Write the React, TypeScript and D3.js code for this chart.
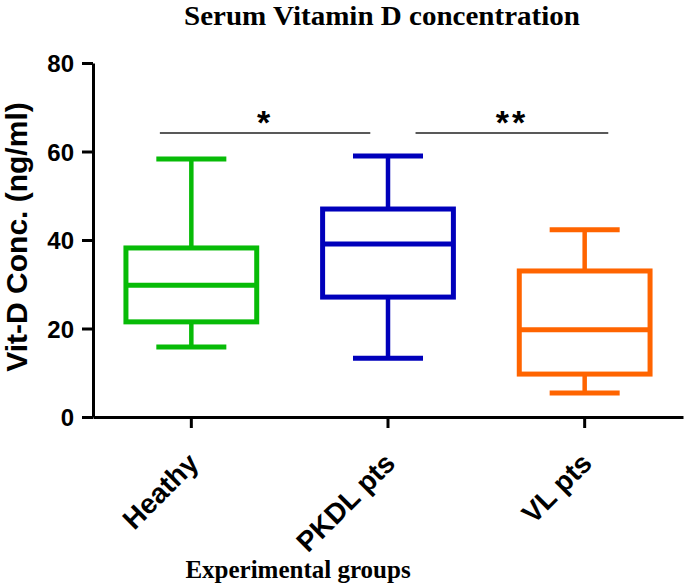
import { useEffect, useRef } from 'react'
import * as d3 from 'd3'

// group names and box statistics (ng/ml)
const groups = ['Heathy', 'PKDL pts', 'VL pts']
const whiskerMin = [15.8, 13.3, 5.4]
const q1 = [21.5, 27.1, 9.7]
const median = [29.8, 39.1, 19.7]
const q3 = [38.2, 47.0, 33.0]
const whiskerMax = [58.3, 59.0, 42.3]
const colors = ['#07bb07', '#0000bb', '#ff6400']
const yTicks = [0, 20, 40, 60, 80]

// significance bars
const sigFrom = ['Heathy', 'PKDL pts']
const sigTo = ['PKDL pts', 'VL pts']
const sigLabel = ['*', '**']
const sigLevel = 64.2

const App = () => {
	const svgRef = useRef(null)

	useEffect(() => {
		const W = 685
		const H = 585
		const svg = d3.select(svgRef.current)
		svg.selectAll('*').remove()
		svg.attr('width', W).attr('height', H)

		const x = d3.scaleBand().domain(groups).range([93, 683])
		const y = d3.scaleLinear().domain([0, 80]).range([417, 63])
		const bw = x.bandwidth()
		const cx = (g) => x(g) + bw / 2

		// title
		svg
			.append('text')
			.attr('x', 382)
			.attr('y', 25)
			.attr('text-anchor', 'middle')
			.attr('textLength', 396)
			.attr('lengthAdjust', 'spacingAndGlyphs')
			.style('font-family', 'Liberation Serif, Times New Roman, serif')
			.style('font-weight', 'bold')
			.style('font-size', '27px')
			.text('Serum Vitamin D concentration')

		// Y axis
		const yAxis = svg
			.append('g')
			.attr('transform', 'translate(93,0)')
			.call(d3.axisLeft(y).tickValues(yTicks).tickSize(11).tickSizeOuter(0).tickPadding(8))
		yAxis.select('.domain').attr('stroke-width', 3)
		yAxis.selectAll('line').attr('stroke-width', 3)
		yAxis
			.selectAll('text')
			.style('font-family', 'Liberation Sans, Arial, sans-serif')
			.style('font-weight', 'bold')
			.style('font-size', '24px')
			.attr('dy', '0.36em')

		// X axis
		const xAxis = svg
			.append('g')
			.attr('transform', 'translate(0,417)')
			.call(d3.axisBottom(x).tickSize(11).tickSizeOuter(0).tickFormat(() => ''))
		xAxis.select('.domain').attr('stroke-width', 3)
		xAxis.selectAll('line').attr('stroke-width', 3)

		// rotated group labels
		svg
			.selectAll('.xlab')
			.data(groups)
			.enter()
			.append('text')
			.attr('class', 'xlab')
			.attr('transform', (d) => `translate(${cx(d) - 5},${451}) rotate(-45)`)
			.attr('text-anchor', 'end')
			.attr('dy', '0.7em')
			.style('font-family', 'Liberation Sans, Arial, sans-serif')
			.style('font-weight', 'bold')
			.style('font-size', '28px')
			.text((d) => d)

		// axis titles
		svg
			.append('text')
			.attr('transform', `translate(27,237) rotate(-90)`)
			.attr('text-anchor', 'middle')
			.style('font-family', 'Liberation Sans, Arial, sans-serif')
			.style('font-weight', 'bold')
			.style('font-size', '30px')
			.text('Vit-D Conc. (ng/ml)')

		svg
			.append('text')
			.attr('x', 298)
			.attr('y', 578)
			.attr('text-anchor', 'middle')
			.style('font-family', 'Liberation Serif, Times New Roman, serif')
			.style('font-weight', 'bold')
			.style('font-size', '25px')
			.text('Experimental groups')

		// boxes
		const boxW = bw * 0.665
		const capW = bw * 0.356
		const rows = groups.map((g, i) => ({
			g,
			min: whiskerMin[i],
			q1: q1[i],
			med: median[i],
			q3: q3[i],
			max: whiskerMax[i],
			color: colors[i],
		}))

		const box = svg
			.selectAll('.box')
			.data(rows)
			.enter()
			.append('g')
			.attr('class', 'box')
			.attr('stroke', (d) => d.color)
			.attr('fill', 'none')

		// whiskers
		box
			.append('line')
			.attr('x1', (d) => cx(d.g))
			.attr('x2', (d) => cx(d.g))
			.attr('y1', (d) => y(d.q3))
			.attr('y2', (d) => y(d.max))
			.attr('stroke-width', 4.5)
		box
			.append('line')
			.attr('x1', (d) => cx(d.g))
			.attr('x2', (d) => cx(d.g))
			.attr('y1', (d) => y(d.q1))
			.attr('y2', (d) => y(d.min))
			.attr('stroke-width', 4.5)
		// caps
		box
			.selectAll('.cap')
			.data((d) => [d.min, d.max].map((v) => ({ g: d.g, v })))
			.enter()
			.append('line')
			.attr('x1', (d) => cx(d.g) - capW / 2)
			.attr('x2', (d) => cx(d.g) + capW / 2)
			.attr('y1', (d) => y(d.v))
			.attr('y2', (d) => y(d.v))
			.attr('stroke-width', 5)
		// box body
		box
			.append('rect')
			.attr('x', (d) => cx(d.g) - boxW / 2)
			.attr('width', boxW)
			.attr('y', (d) => y(d.q3))
			.attr('height', (d) => y(d.q1) - y(d.q3))
			.attr('fill', 'white')
			.attr('stroke-width', 5)
		// median
		box
			.append('line')
			.attr('x1', (d) => cx(d.g) - boxW / 2)
			.attr('x2', (d) => cx(d.g) + boxW / 2)
			.attr('y1', (d) => y(d.med))
			.attr('y2', (d) => y(d.med))
			.attr('stroke-width', 5)

		// significance bars
		const startOff = [-0.16, 0.14]
		const endOff = [-0.09, 0.12]
		sigLabel.forEach((lab, i) => {
			const x1 = cx(sigFrom[i]) + startOff[i] * bw
			const x2 = cx(sigTo[i]) + endOff[i] * bw
			svg
				.append('line')
				.attr('x1', x1)
				.attr('x2', x2)
				.attr('y1', y(sigLevel))
				.attr('y2', y(sigLevel))
				.attr('stroke', '#222')
				.attr('stroke-width', 1.5)
			svg
				.append('text')
				.attr('x', (x1 + x2) / 2)
				.attr('y', y(sigLevel) + 1)
				.attr('text-anchor', 'middle')
				.attr('letter-spacing', 3)
				.style('font-family', 'Liberation Sans, Arial, sans-serif')
				.style('font-weight', 'bold')
				.style('font-size', '34px')
				.text(lab)
		})
	}, [])

	return <svg ref={svgRef} style={{ position: 'absolute', left: 0, top: 0 }}></svg>
}

export default App
